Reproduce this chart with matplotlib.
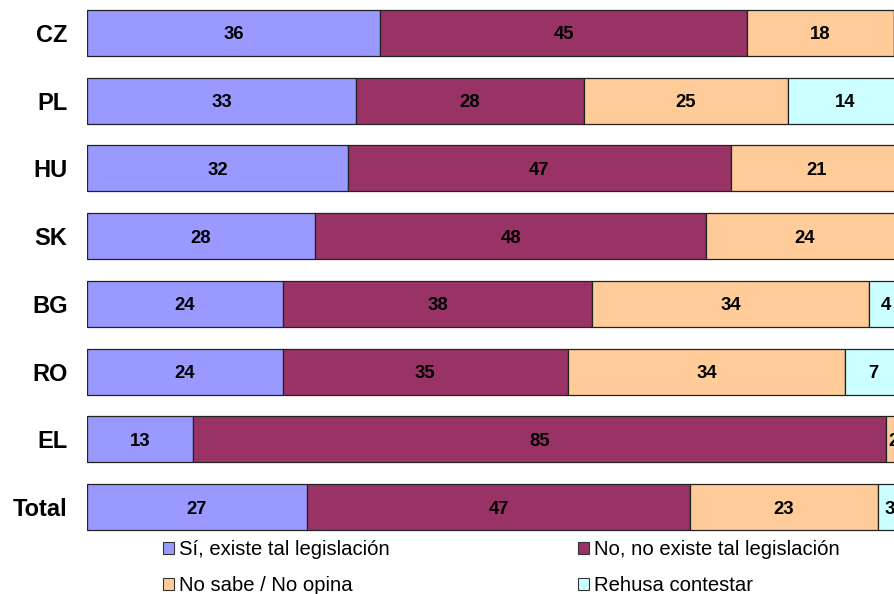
import matplotlib
matplotlib.use("Agg")
import matplotlib.pyplot as plt
from matplotlib.patches import Patch

plt.rcParams['font.family'] = ['Liberation Sans', 'DejaVu Sans']

countries = ["CZ", "PL", "HU", "SK", "BG", "RO", "EL", "Total"]
si = [36, 33, 32, 28, 24, 24, 13, 27]
no = [45, 28, 47, 48, 38, 35, 85, 47]
nosabe = [18, 25, 21, 24, 34, 34, 2, 23]
rehusa = [0, 14, 0, 0, 4, 7, 0, 3]
series_names = ["Sí, existe tal legislación", "No, no existe tal legislación",
                "No sabe / No opina", "Rehusa contestar"]
colors = ["#9999FF", "#993366", "#FFCC99", "#CCFFFF"]

W, H = 894, 594
fig = plt.figure(figsize=(W / 100, H / 100), dpi=100)
x0, x1 = 87, 902
ytop, ybot = -1, 541
ax = fig.add_axes([x0 / W, (H - ybot) / H, (x1 - x0) / W, (ybot - ytop) / H])

ypos = list(range(len(countries)))
left = [0] * len(countries)
for vals, col in zip([si, no, nosabe, rehusa], colors):
    ax.barh(ypos, vals, left=left, height=0.68, color=col,
            edgecolor="#222222", linewidth=0.9)
    for i, v in enumerate(vals):
        if v > 0:
            ax.text(left[i] + v / 2, i, str(v), ha="center", va="center_baseline",
                    fontsize=13.3, fontweight="bold", color="black")
    left = [l + v for l, v in zip(left, vals)]

ax.set_xlim(0, 100)
ax.set_ylim(len(countries) - 0.5, -0.5)
ax.set_yticks(ypos)
ax.set_yticklabels(countries, fontsize=17, fontweight="bold")
ax.tick_params(axis="y", length=0, pad=14)
ax.set_xticks([])
for s in ax.spines.values():
    s.set_visible(False)

handles = [Patch(facecolor=c, edgecolor="#333333", linewidth=0.8) for c in colors]
order = [0, 2, 1, 3]
leg = fig.legend([handles[i] for i in order], [series_names[i] for i in order],
                 ncol=2, loc="upper left", bbox_to_anchor=(163 / W, 1 - 540 / H),
                 frameon=False, fontsize=14.6, handlelength=0.55, handleheight=0.55,
                 handletextpad=0.22, columnspacing=9.3, labelspacing=0.85,
                 borderaxespad=0, borderpad=0)

fig.savefig("out.png", dpi=100)
